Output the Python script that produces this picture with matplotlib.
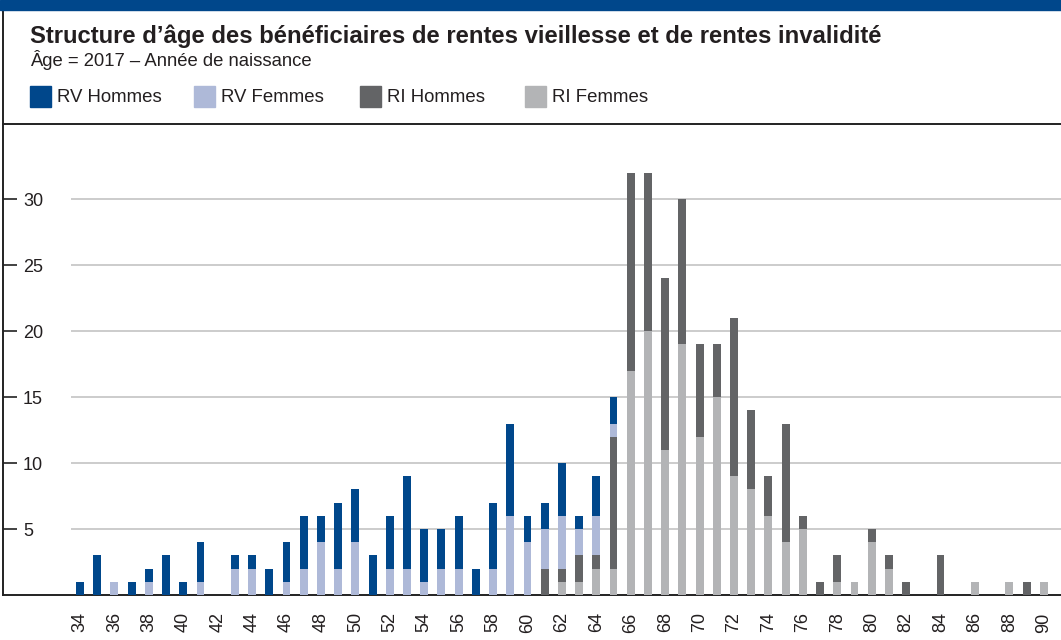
import numpy as np
import matplotlib.pyplot as plt
from matplotlib.patches import Rectangle
from matplotlib.lines import Line2D

plt.rcParams['font.family'] = ['Liberation Sans', 'DejaVu Sans']

# age structure, 2017
ages = np.arange(34, 91)

rv_hommes = [1, 3, 0, 1, 1, 3, 1, 3, 0, 1, 1, 2, 3, 4, 2, 5, 4, 3, 4, 7,
             4, 3, 4, 2, 5, 7, 2, 2, 4, 1, 3, 2, 0, 0, 0, 0, 0, 0, 0, 0,
             0, 0, 0, 0, 0, 0, 0, 0, 0, 0, 0, 0, 0, 0, 0, 0, 0]
rv_femmes = [0, 0, 1, 0, 1, 0, 0, 1, 0, 2, 2, 0, 1, 2, 4, 2, 4, 0, 2, 2,
             1, 2, 2, 0, 2, 6, 4, 3, 4, 2, 3, 1, 0, 0, 0, 0, 0, 0, 0, 0,
             0, 0, 0, 0, 0, 0, 0, 0, 0, 0, 0, 0, 0, 0, 0, 0, 0]
ri_hommes = [0, 0, 0, 0, 0, 0, 0, 0, 0, 0, 0, 0, 0, 0, 0, 0, 0, 0, 0, 0,
             0, 0, 0, 0, 0, 0, 0, 2, 1, 2, 1, 10, 15, 12, 13, 11, 7, 4, 12, 6,
             3, 9, 1, 1, 2, 0, 1, 1, 1, 0, 3, 0, 0, 0, 0, 1, 0]
ri_femmes = [0, 0, 0, 0, 0, 0, 0, 0, 0, 0, 0, 0, 0, 0, 0, 0, 0, 0, 0, 0,
             0, 0, 0, 0, 0, 0, 0, 0, 1, 1, 2, 2, 17, 20, 11, 19, 12, 15, 9, 8,
             6, 4, 5, 0, 1, 1, 4, 2, 0, 0, 0, 0, 1, 0, 1, 0, 1]

series_names = ['RV Hommes', 'RV Femmes', 'RI Hommes', 'RI Femmes']
series_colors = ['#00478b', '#aeb9d8', '#636466', '#b3b4b6']
yticks = [5, 10, 15, 20, 25, 30]
xticks = list(range(34, 91, 2))

W, H = 1061, 640
fig = plt.figure(figsize=(W / 100, H / 100), dpi=100)
ax = fig.add_axes([3 / W, 45 / H, 1058 / W, 471 / H])

text_col = '#231f20'
frame_col = '#222222'

# stacked from bottom: RI Femmes, RI Hommes, RV Femmes, RV Hommes
stack = [ri_femmes, ri_hommes, rv_femmes, rv_hommes]
stack_cols = series_colors[::-1]
bottom = np.zeros(len(ages))
for vals, col in zip(stack, stack_cols):
    vals = np.array(vals, dtype=float)
    ax.bar(ages, vals, width=0.46, bottom=bottom, color=col, zorder=3,
           linewidth=0)
    bottom += vals

ax.set_xlim(29.526, 91.0)
ax.set_ylim(0, 35.71)

ax.hlines(yticks, 33.48, 91.0, color='#cccccc', linewidth=1.4, zorder=1)

ax.set_yticks(yticks)
ax.tick_params(axis='y', direction='in', length=10, width=1.2,
               color=frame_col, pad=-14.4, labelsize=13, labelcolor=text_col)
for lab in ax.get_yticklabels():
    lab.set_horizontalalignment('left')

ax.set_xticks(xticks)
ax.set_xticklabels([str(a) for a in xticks], rotation=90)
ax.tick_params(axis='x', length=0, pad=12.5, labelsize=13, labelcolor=text_col)

for side in ['left', 'bottom', 'top']:
    ax.spines[side].set_color(frame_col)
    ax.spines[side].set_linewidth(1.4)
ax.spines['right'].set_visible(False)

# header
fig.patches.append(Rectangle((0, 1 - 10 / H), 1, 10 / H, transform=fig.transFigure,
                             color='#00478b', zorder=5))
fig.lines.append(Line2D([3 / W, 3 / W], [1 - 10 / H, 1 - 124 / H],
                        transform=fig.transFigure, color=frame_col, linewidth=1.4))

fig.text(30 / W, 1 - 43.5 / H,
         'Structure d’âge des bénéficiaires de rentes vieillesse et de rentes invalidité',
         fontsize=17.2, fontweight='bold', color=text_col, va='baseline')
fig.text(30 / W, 1 - 66.5 / H, 'Âge = 2017 – Année de naissance',
         fontsize=13.3, color=text_col, va='baseline')

legend_x = [30, 194, 360, 525]
for name, col, lx in zip(series_names, series_colors, legend_x):
    fig.patches.append(Rectangle((lx / W, 1 - 107 / H), 21 / W, 21 / H,
                                 transform=fig.transFigure, color=col))
    fig.text((lx + 27) / W, 1 - 97 / H, name, fontsize=13.4, color=text_col,
             va='center')

fig.savefig('out.png', dpi=100)
